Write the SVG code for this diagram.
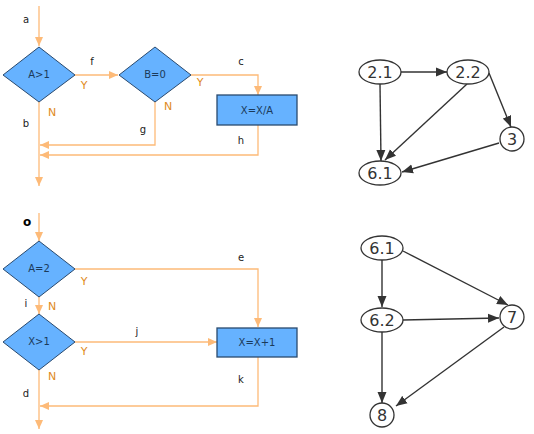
<svg xmlns="http://www.w3.org/2000/svg" width="534" height="434" viewBox="0 0 534 434">
<style>
.fl{fill:none;stroke:#FDBA78;stroke-width:1.3}
.dm{fill:#66B2FF;stroke:#2A4A6E;stroke-width:1}
.bx{fill:#66B2FF;stroke:#2A4A6E;stroke-width:1.3}
.nt{font-family:"DejaVu Sans",sans-serif;font-size:10px;fill:#1B3A5A;text-anchor:middle}
.lb{font-family:"DejaVu Sans",sans-serif;font-size:10px;fill:#222;text-anchor:middle}
.yn{font-family:"DejaVu Sans",sans-serif;font-size:11px;fill:#E08A20;text-anchor:middle}
.ge{fill:none;stroke:#333;stroke-width:1.4}
.gn{fill:#fff;stroke:#333;stroke-width:1.3}
.gt{font-family:"DejaVu Sans",sans-serif;font-size:16px;fill:#333;text-anchor:middle}
</style>
<defs>
<marker id="oa" markerWidth="10" markerHeight="10" refX="9" refY="5" orient="auto" markerUnits="userSpaceOnUse"><path d="M0,1 L9,5 L0,9 Z" fill="#FDBA78"/></marker>
<marker id="ga" markerWidth="12" markerHeight="10" refX="11" refY="5" orient="auto" markerUnits="userSpaceOnUse"><path d="M0,0.5 L11,5 L0,9.5 Z" fill="#333"/></marker>
</defs>
<rect width="534" height="434" fill="#fff"/>
<g id="connectors">
<path class="fl" d="M39,6 V46" marker-end="url(#oa)"/>
<path class="fl" d="M75,75 H118" marker-end="url(#oa)"/>
<path class="fl" d="M191,75 H258 V95" marker-end="url(#oa)"/>
<path class="fl" d="M155,102 V145 H40" marker-end="url(#oa)"/>
<path class="fl" d="M258,125 V155 H40" marker-end="url(#oa)"/>
<path class="fl" d="M39,102 V186" marker-end="url(#oa)"/>
<path class="fl" d="M39,213 V241" marker-end="url(#oa)"/>
<path class="fl" d="M75,269 H258 V327" marker-end="url(#oa)"/>
<path class="fl" d="M39,297 V314" marker-end="url(#oa)"/>
<path class="fl" d="M75,342 H217" marker-end="url(#oa)"/>
<path class="fl" d="M258,357 V406 H40" marker-end="url(#oa)"/>
<path class="fl" d="M39,370 V429" marker-end="url(#oa)"/>
<path class="ge" d="M401,72 H447" marker-end="url(#ga)"/>
<path class="ge" d="M380,84 L381,161" marker-end="url(#ga)"/>
<path class="ge" d="M467,84 L385,160" marker-end="url(#ga)"/>
<path class="ge" d="M489,73 L511,127" marker-end="url(#ga)"/>
<path class="ge" d="M499,143 L402,172" marker-end="url(#ga)"/>
<path class="ge" d="M382,260 V307" marker-end="url(#ga)"/>
<path class="ge" d="M403,251 L508,305" marker-end="url(#ga)"/>
<path class="ge" d="M403,320 L499,318" marker-end="url(#ga)"/>
<path class="ge" d="M382,332 V403" marker-end="url(#ga)"/>
<path class="ge" d="M504,327 L396,406" marker-end="url(#ga)"/>
</g>
<g id="flow-labels">
<text class="lb" x="26" y="23">a</text>
<text class="lb" x="92" y="65">f</text>
<text class="yn" x="84" y="89">Y</text>
<text class="lb" x="241" y="65">c</text>
<text class="yn" x="200" y="86">Y</text>
<text class="yn" x="52" y="116">N</text>
<text class="yn" x="168" y="110">N</text>
<text class="lb" x="26" y="127">b</text>
<text class="lb" x="143" y="133">g</text>
<text class="lb" x="241" y="144">h</text>
<text x="27" y="226" font-family="DejaVu Sans,sans-serif" font-size="12" font-weight="bold" fill="#000" text-anchor="middle">o</text>
<text class="lb" x="241" y="261">e</text>
<text class="yn" x="84" y="285">Y</text>
<text class="lb" x="26" y="307">i</text>
<text class="yn" x="52" y="310">N</text>
<text class="lb" x="137" y="335">j</text>
<text class="yn" x="84" y="355">Y</text>
<text class="yn" x="52" y="380">N</text>
<text class="lb" x="26" y="397">d</text>
<text class="lb" x="241" y="383">k</text>
</g>
<g id="n-a1"><polygon class="dm" points="39,47 75,75 39,102 3,75"/><text class="nt" x="39" y="78">A&gt;1</text></g>
<g id="n-b0"><polygon class="dm" points="155,47 191,75 155,102 119,75"/><text class="nt" x="155" y="78">B=0</text></g>
<g id="n-xa"><rect class="bx" x="217" y="95" width="80" height="30"/><text class="nt" x="257" y="114">X=X/A</text></g>
<g id="n-a2"><polygon class="dm" points="39,241 75,269 39,297 3,269"/><text class="nt" x="39" y="272">A=2</text></g>
<g id="n-x1"><polygon class="dm" points="39,314 75,342 39,370 3,342"/><text class="nt" x="39" y="345">X&gt;1</text></g>
<g id="n-xp"><rect class="bx" x="217" y="328" width="80" height="29"/><text class="nt" x="257" y="346">X=X+1</text></g>
<g id="g-21"><ellipse class="gn" cx="380" cy="72" rx="21" ry="12"/><text class="gt" x="380" y="78">2.1</text></g>
<g id="g-22"><ellipse class="gn" cx="468" cy="72" rx="21" ry="12"/><text class="gt" x="468" y="78">2.2</text></g>
<g id="g-3"><circle class="gn" cx="512" cy="139" r="12"/><text class="gt" x="512" y="145">3</text></g>
<g id="g-61a"><ellipse class="gn" cx="380" cy="173" rx="21" ry="12"/><text class="gt" x="380" y="179">6.1</text></g>
<g id="g-61b"><ellipse class="gn" cx="382" cy="248" rx="21" ry="12"/><text class="gt" x="382" y="254">6.1</text></g>
<g id="g-62"><ellipse class="gn" cx="382" cy="320" rx="21" ry="12"/><text class="gt" x="382" y="326">6.2</text></g>
<g id="g-7"><circle class="gn" cx="512" cy="317" r="12"/><text class="gt" x="512" y="323">7</text></g>
<g id="g-8"><circle class="gn" cx="382" cy="415" r="12"/><text class="gt" x="382" y="421">8</text></g>
</svg>
